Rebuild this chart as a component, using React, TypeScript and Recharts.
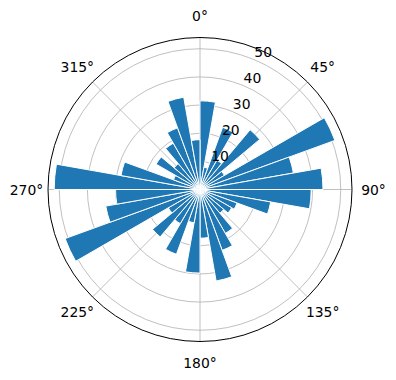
import { PolarAngleAxis, PolarGrid, PolarRadiusAxis, RadialBar, RadialBarChart } from 'recharts';

// wind directions (bin centres, degrees clockwise from north)
const directions = [
  5, 15, 25, 35, 45, 55, 65, 75, 85, 95, 105, 115, 125, 135, 145, 155, 165, 175,
  185, 195, 205, 215, 225, 235, 245, 255, 265, 275, 285, 295, 305, 315, 325, 335, 345, 355,
];
const counts = [
  31.5, 8, 23.5, 12, 27.7, 10, 51, 33.7, 43.7, 39.5, 25.5, 14, 13, 11, 18, 23, 33, 17.3,
  29.7, 12, 24.5, 14, 22, 13, 51, 34, 30, 51.8, 28.5, 10, 18, 12, 19, 23.3, 33.3, 17.7,
];
const angleTicks = [0, 45, 90, 135, 180, 225, 270, 315];
const radiusTicks = [10, 20, 30, 40, 50];
const rMax = 53.7;

const data = directions.map((dir, i) => ({ dir, count: counts[i] }));

const font = '"DejaVu Sans", sans-serif';

const W = 396;
const H = 380;
const CX = 200;
const CY = 189.5;
const R = 152;
const LABEL_R = 173.5;

// compass degrees -> recharts angle (counter-clockwise from 3 o'clock)
const gridAngles = angleTicks.map((a) => 90 - a);

function RadiusTick(props: any) {
  const { x, y, payload } = props;
  return (
    <text x={x + 0.5} y={y - 2} textAnchor="start" fontSize={13.9} fontFamily={font} fill="#000">
      {payload.value}
    </text>
  );
}

export default function App() {
  return (
    <div style={{ position: 'absolute', left: 0, top: 0, width: W, height: H, background: '#fff' }}>
      <RadialBarChart
        width={W}
        height={H}
        data={data}
        cx={CX}
        cy={CY}
        innerRadius={0}
        outerRadius={R}
        startAngle={80}
        endAngle={-280}
        layout="centric"
        barCategoryGap="0%"
        margin={{ top: 0, right: 0, bottom: 0, left: 0 }}
      >
        <PolarGrid gridType="circle" polarAngles={gridAngles} stroke="#b0b0b0" strokeWidth={0.8} />
        <RadialBar
          dataKey="count"
          fill="#1f77b4"
          stroke="#ffffff"
          strokeWidth={1}
          isAnimationActive={false}
        />
        <PolarAngleAxis type="category" dataKey="dir" tick={false} axisLine={false} tickLine={false} />
        <PolarRadiusAxis
          type="number"
          domain={[0, rMax]}
          ticks={radiusTicks}
          angle={67.5}
          axisLine={false}
          tickLine={false}
          tick={RadiusTick}
        />
      </RadialBarChart>
      <svg width={W} height={H} style={{ position: 'absolute', left: 0, top: 0, pointerEvents: 'none' }}>
        <circle cx={CX} cy={CY} r={R} fill="none" stroke="#000" strokeWidth={1} />
        {angleTicks.map((a) => {
          const rad = (a * Math.PI) / 180;
          return (
            <text
              key={a}
              x={CX + LABEL_R * Math.sin(rad)}
              y={CY - LABEL_R * Math.cos(rad)}
              textAnchor="middle"
              dominantBaseline="central"
              fontSize={13.9}
              fontFamily={font}
              fill="#000"
            >
              {`${a}°`}
            </text>
          );
        })}
      </svg>
    </div>
  );
}
